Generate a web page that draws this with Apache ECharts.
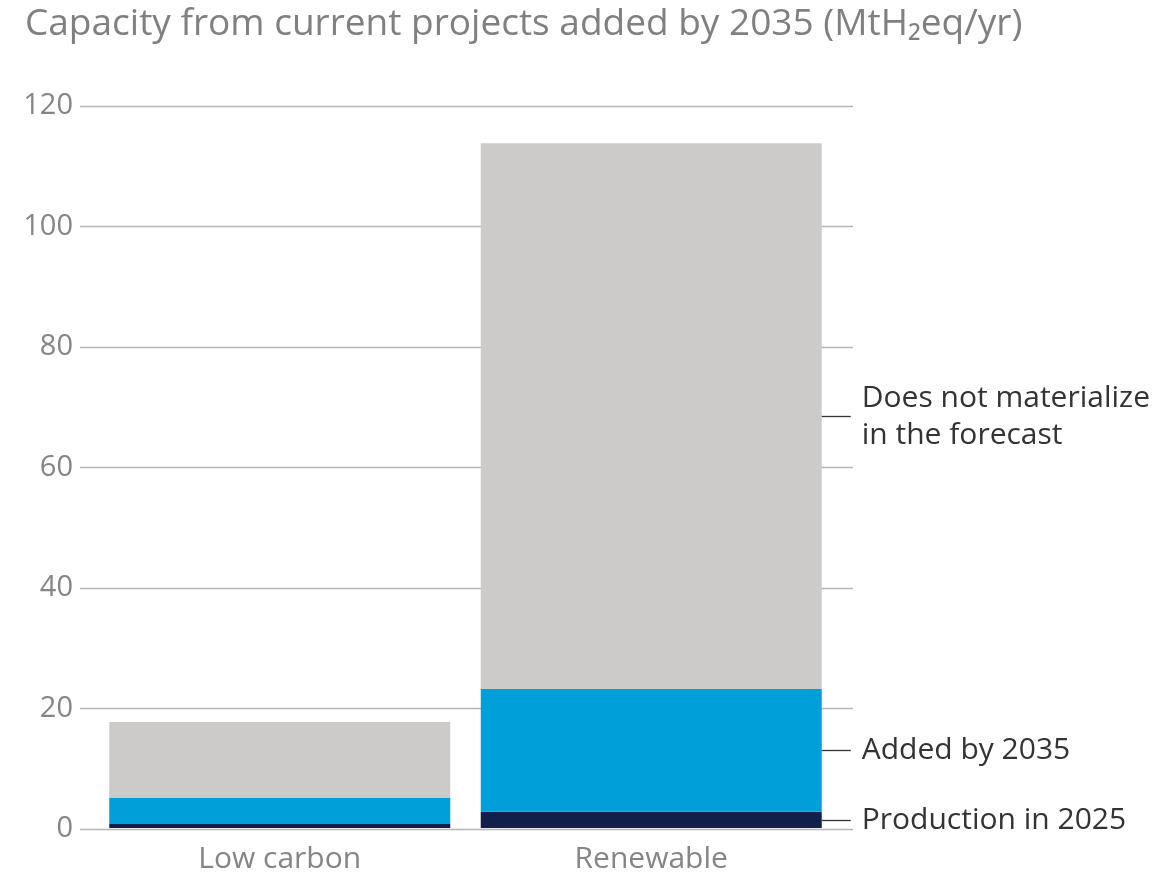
<!DOCTYPE html>
<html>
<head>
<meta charset="utf-8">
<script src="https://cdn.jsdelivr.net/npm/echarts@6/dist/echarts.min.js"></script>
<style>
  html, body { margin: 0; padding: 0; background: #fff; }
  #chart { width: 1176px; height: 874px; }
</style>
</head>
<body>
<div id="chart"></div>
<script>
// Hydrogen capacity from current projects, MtH2eq/yr
const categories = ['Low carbon', 'Renewable'];
const production2025 = [0.65, 2.7];
const addedBy2035 = [4.35, 20.4];
const notMaterialized = [12.6, 90.7];
const yTicks = [0, 20, 40, 60, 80, 100, 120];

const segmentNames = ['Production in 2025', 'Added by 2035', 'Does not materialize\nin the forecast'];
const segmentColors = ['#121f4b', '#009fda', '#cccbca'];

const FONT = '"Open Sans", Lato, sans-serif';
const BAR_WIDTH = 341;
const yMin = yTicks[0];
const yMax = yTicks[yTicks.length - 1];
const yStep = yTicks[1] - yTicks[0];

// Segment extents of the annotated (right-hand) column: [category, bottom, top, name]
const annotatedIdx = categories.length - 1;
const annotations = [];
let base = 0;
[production2025, addedBy2035, notMaterialized].forEach((vals, i) => {
  const v = vals[annotatedIdx];
  annotations.push([annotatedIdx, base, base + v, segmentNames[i]]);
  base += v;
});

const chart = echarts.init(document.getElementById('chart'), null, { renderer: 'canvas' });

const barSeries = [production2025, addedBy2035, notMaterialized].map((vals, idx) => ({
  name: segmentNames[idx],
  type: 'bar',
  xAxisIndex: 1,
  yAxisIndex: 1,
  stack: 'capacity',
  barWidth: BAR_WIDTH,
  itemStyle: { color: segmentColors[idx] },
  data: vals
}));

// Leader line + text beside the middle of each segment
const annotationSeries = {
  type: 'custom',
  xAxisIndex: 1,
  yAxisIndex: 1,
  silent: true,
  z: 5,
  data: annotations,
  renderItem: function (params, api) {
    const mid = (api.value(1) + api.value(2)) / 2;
    const p = api.coord([api.value(0), mid]);
    const x0 = p[0] + BAR_WIDTH / 2;
    const y = Math.round(p[1]) + 0.5;
    return {
      type: 'group',
      children: [
        {
          type: 'line',
          shape: { x1: x0, y1: y, x2: x0 + 29, y2: y },
          style: { stroke: '#333333', lineWidth: 1.3 }
        },
        {
          type: 'text',
          style: {
            x: x0 + 40,
            y: y,
            text: annotations[params.dataIndex][3],
            fill: '#333333',
            font: '30px ' + FONT,
            lineHeight: 37,
            align: 'left',
            verticalAlign: 'middle'
          }
        }
      ]
    };
  }
};

chart.setOption({
  animation: false,
  backgroundColor: '#ffffff',
  title: {
    text: 'Capacity from current projects added by 2035 (MtH₂eq/yr)',
    left: 20,
    top: 1,
    textStyle: { color: '#808080', fontFamily: FONT, fontSize: 37, fontWeight: 'normal' }
  },
  grid: [
    { left: 80, right: 323, top: 106, bottom: 45 },
    { left: 94, right: 339, top: 106, bottom: 45 }
  ],
  xAxis: [
    { gridIndex: 0, type: 'category', data: categories, show: false },
    {
      gridIndex: 1,
      type: 'category',
      data: categories,
      axisLine: { show: false },
      axisTick: { show: false },
      axisLabel: { color: '#858585', fontFamily: FONT, fontSize: 30, margin: 16 }
    }
  ],
  yAxis: [
    {
      gridIndex: 0,
      type: 'value',
      min: yMin,
      max: yMax,
      interval: yStep,
      axisLine: { show: false },
      axisTick: { show: false },
      axisLabel: { color: '#858585', fontFamily: FONT, fontSize: 29, margin: 7 },
      splitLine: { show: true, lineStyle: { color: '#b5b5b5', width: 1.3 } }
    },
    {
      gridIndex: 1,
      type: 'value',
      min: yMin,
      max: yMax,
      interval: yStep,
      show: false,
      splitLine: { show: false }
    }
  ],
  series: barSeries.concat([annotationSeries])
});
</script>
</body>
</html>
